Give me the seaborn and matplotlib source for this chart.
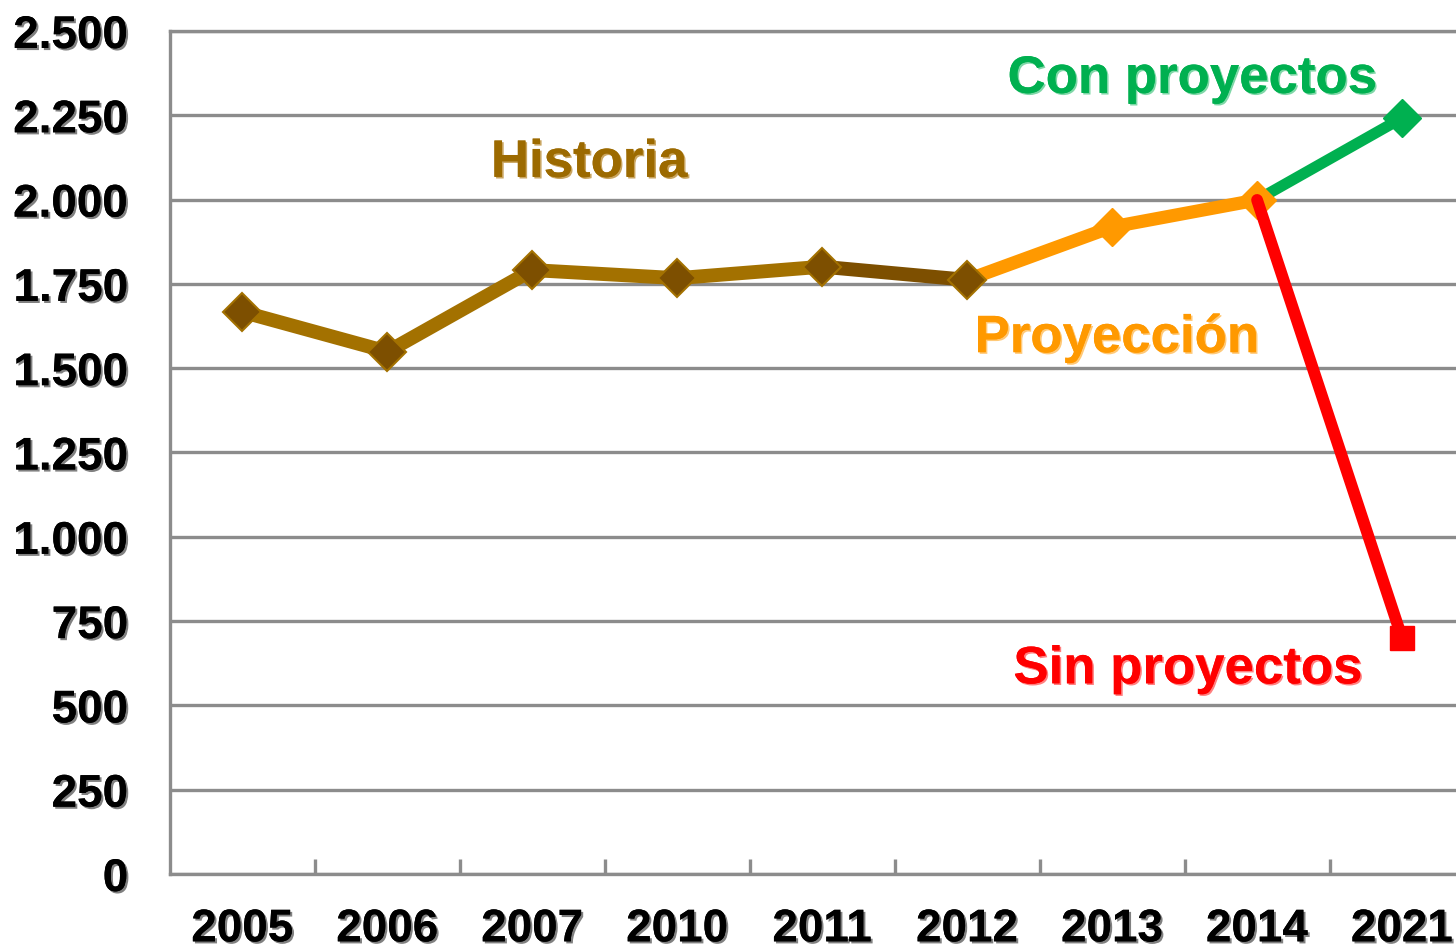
import matplotlib
matplotlib.use("Agg")
import matplotlib.pyplot as plt
import matplotlib.patheffects as pe
from matplotlib.ticker import FixedLocator, FuncFormatter
import seaborn as sns
import pandas as pd

# ---------------- data ----------------
years = ["2005", "2006", "2007", "2010", "2011", "2012", "2013", "2014", "2021"]
historia_years = ["2005", "2006", "2007", "2010", "2011", "2012"]
historia = [1667, 1549, 1791, 1767, 1801, 1762]
proyeccion_years = ["2012", "2013", "2014"]
proyeccion = [1762, 1919, 1999]
con_years = ["2014", "2021"]
con_proyectos = [1999, 2242]
sin_years = ["2014", "2021"]
sin_proyectos = [1999, 700]

y_ticks = [0, 250, 500, 750, 1000, 1250, 1500, 1750, 2000, 2250, 2500]

pos = {y: i for i, y in enumerate(years)}

def frame(yrs, vals):
    return pd.DataFrame({"x": [pos[y] for y in yrs], "v": vals})

df_hist = frame(historia_years, historia)
df_proy = frame(proyeccion_years, proyeccion)
df_con = frame(con_years, con_proyectos)
df_sin = frame(sin_years, sin_proyectos)

# ---------------- style ----------------
sns.set_theme(style="white")
plt.rcParams["font.family"] = ["Liberation Sans", "DejaVu Sans"]

BROWN_LINE = "#A37100"
BROWN_DARK = "#7D4F00"
ORANGE = "#FF9900"
GREEN = "#00B050"
RED = "#FF0000"
GRID = "#8C8C8C"

fig = plt.figure(figsize=(14.56, 9.51), dpi=100)
ax = fig.add_axes([170 / 1456, 1 - 874 / 951, 1 - 170 / 1456, (874 - 31) / 951])

# projection (orange) line
sns.lineplot(data=df_proy, x="x", y="v", ax=ax, color=ORANGE, lw=9.5,
             solid_capstyle="butt", zorder=3, sort=False)
# green "con proyectos"
sns.lineplot(data=df_con, x="x", y="v", ax=ax, color=GREEN, lw=8,
             solid_capstyle="butt", zorder=3, sort=False)
# history line (gold) up to 2011, darker segment 2011-2012
sns.lineplot(data=df_hist.iloc[:5], x="x", y="v", ax=ax, color=BROWN_LINE, lw=10,
             solid_capstyle="butt", zorder=4, sort=False)
sns.lineplot(data=df_hist.iloc[4:], x="x", y="v", ax=ax, color=BROWN_DARK, lw=10,
             solid_capstyle="butt", zorder=4, sort=False)

# markers
ax.plot(df_hist["x"], df_hist["v"], ls="none", marker="D", ms=19,
        mfc=BROWN_DARK, mec=BROWN_LINE, mew=1.5, zorder=6)
ax.plot(df_proy["x"].iloc[1:], df_proy["v"].iloc[1:], ls="none", marker="D", ms=19,
        mfc=ORANGE, mec=ORANGE, mew=1.0, zorder=6)
ax.plot(df_con["x"].iloc[1:], df_con["v"].iloc[1:], ls="none", marker="D", ms=19,
        mfc=GREEN, mec=GREEN, mew=1.0, zorder=6)

# red "sin proyectos"
sns.lineplot(data=df_sin, x="x", y="v", ax=ax, color=RED, lw=8.5,
             solid_capstyle="round", zorder=7, sort=False)
ax.plot(df_sin["x"].iloc[1:], df_sin["v"].iloc[1:], ls="none", marker="s", ms=17,
        mfc=RED, mec=RED, zorder=7)

# ---------------- axes ----------------
ax.set_xlim(-0.5, 8 + (1456 - 1402) / 145)
ax.set_ylim(0, 2500)
ax.set_xlabel("")
ax.set_ylabel("")

ax.yaxis.set_major_locator(FixedLocator(y_ticks))
ax.yaxis.set_major_formatter(FuncFormatter(lambda v, p: f"{int(v):,}".replace(",", ".")))
ax.xaxis.set_major_locator(FixedLocator(list(range(len(years)))))
ax.set_xticklabels(years)
ax.xaxis.set_minor_locator(FixedLocator([i + 0.5 for i in range(len(years) - 1)]))

ax.grid(False)
ax.yaxis.grid(True, color=GRID, lw=2.4, zorder=1)
ax.set_axisbelow(True)

for s in ["left", "bottom", "top"]:
    ax.spines[s].set_visible(True)
    ax.spines[s].set_color(GRID)
    ax.spines[s].set_linewidth(2.4)
ax.spines["right"].set_visible(False)

ax.tick_params(axis="y", which="major", length=0, pad=30)
ax.tick_params(axis="x", which="major", length=0, pad=24)
ax.tick_params(axis="x", which="minor", direction="in", length=11, width=2.4,
               color=GRID, bottom=True)

shadow = [pe.withSimplePatchShadow(offset=(1.5, -1.5), shadow_rgbFace="#808080", alpha=1.0),
          pe.Normal()]
for lab in ax.get_yticklabels() + ax.get_xticklabels():
    lab.set_fontsize(33)
    lab.set_fontweight("bold")
    lab.set_color("black")
    lab.set_path_effects(shadow)

# ---------------- annotations ----------------
def label(x, y, text, color, shadow_color):
    ax.text(x, y, text, color=color, fontsize=38, fontweight="bold",
            ha="center", va="center", zorder=8,
            path_effects=[pe.withSimplePatchShadow(offset=(1.2, -1.2),
                                                   shadow_rgbFace=shadow_color, alpha=1.0),
                          pe.Normal()])

label(2.39, 2109, "Historia", "#9C6A00", "#C9A560")
label(6.55, 2358, "Con proyectos", GREEN, "#7FD7A7")
label(6.03, 1589, "Proyección", ORANGE, "#FFC977")
label(6.52, 607, "Sin proyectos", RED, "#FF8080")

fig.savefig("out.png", dpi=100)
